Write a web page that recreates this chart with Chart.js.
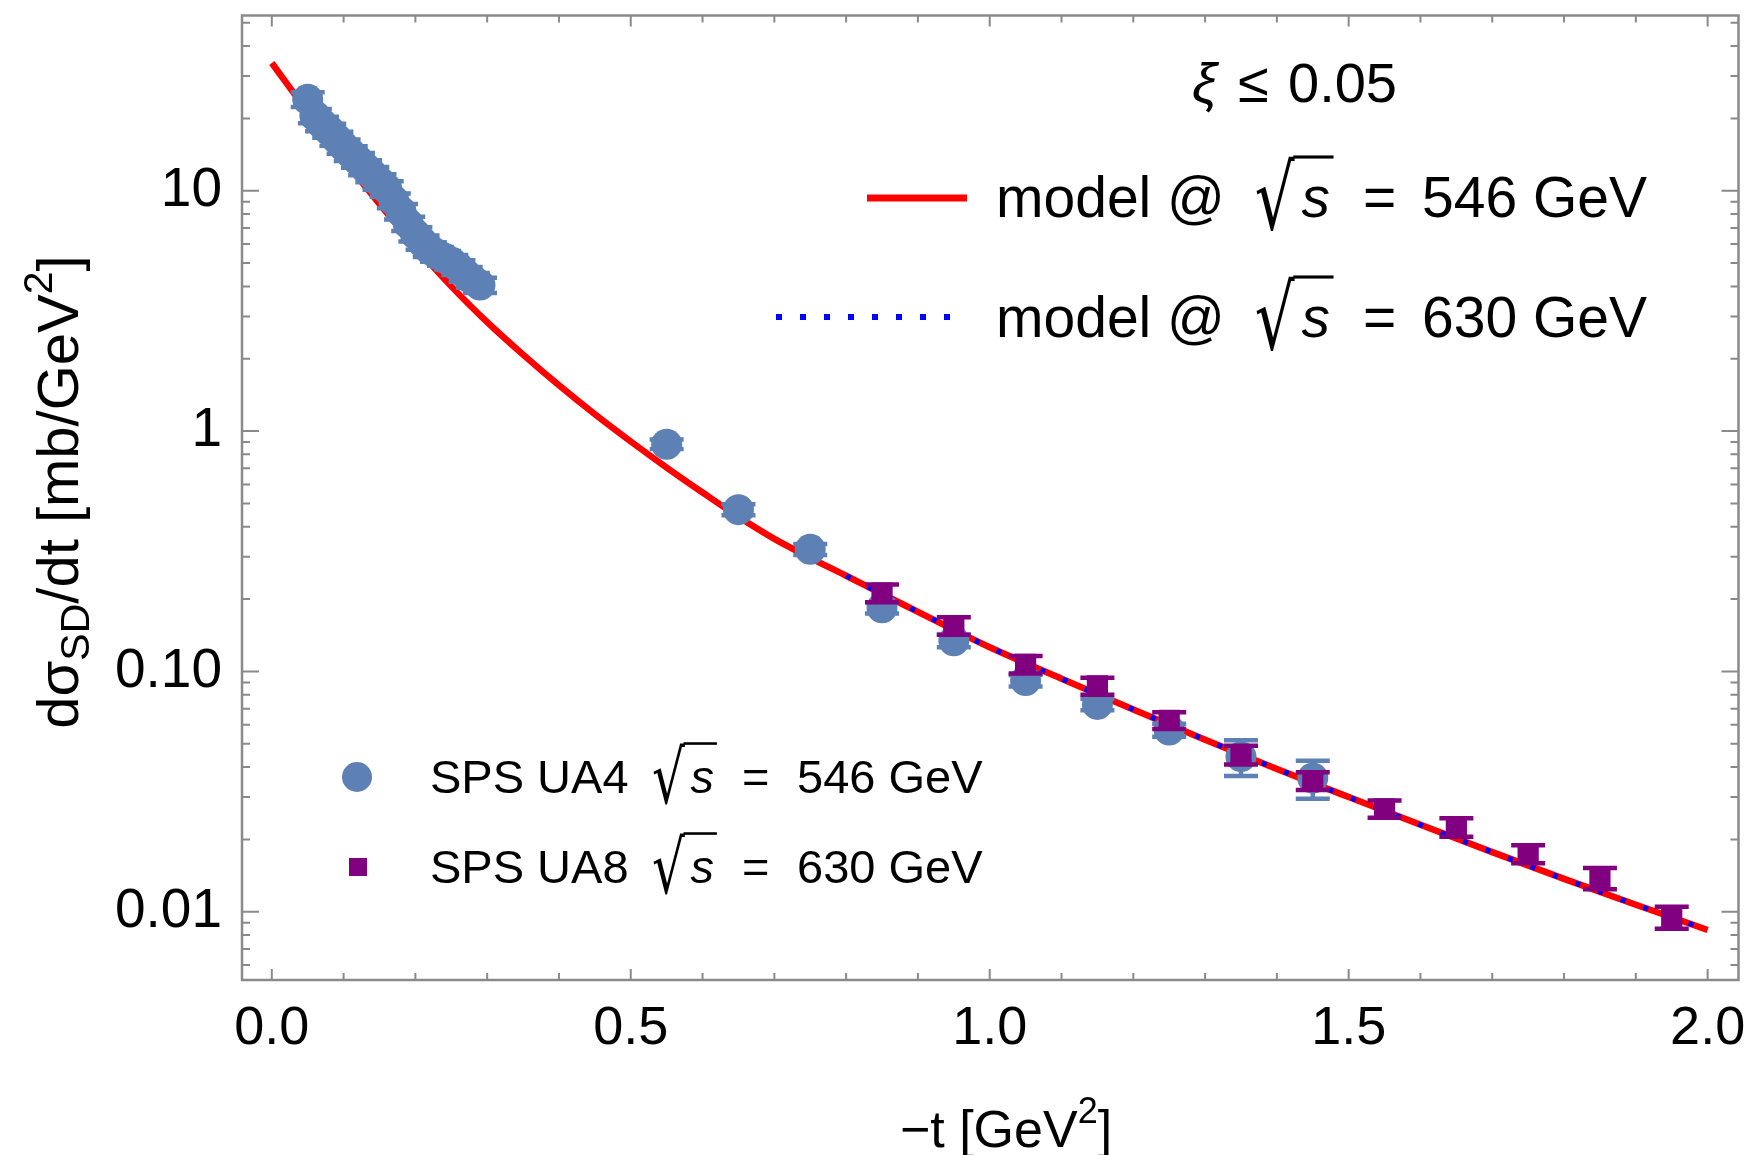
<!DOCTYPE html>
<html>
<head>
<meta charset="utf-8">
<title>Single diffraction dσ/dt</title>
<script src="https://cdn.jsdelivr.net/npm/chart.js@4.4.0/dist/chart.umd.min.js"></script>
<style>
  html, body { margin: 0; padding: 0; background: #fff; }
  canvas { display: block; }
</style>
</head>
<body>
<canvas id="sdChart" width="1754" height="1155"></canvas>
<script>
// model curves, -t in GeV^2, dsigma/dt in mb/GeV^2
var modelT = [0, 0.05, 0.1, 0.15, 0.2, 0.25, 0.3, 0.35, 0.4, 0.45, 0.5, 0.55, 0.6, 0.65, 0.7, 0.75, 0.8, 0.85, 0.9, 0.95, 1.0,
  1.1, 1.2, 1.3, 1.4, 1.5, 1.6, 1.7, 1.8, 1.9, 2.0];
var model546 = [34.0, 21.25, 13.55, 8.81, 5.85, 4.0, 2.84, 2.08, 1.55, 1.175, 0.905, 0.705, 0.555, 0.44, 0.356, 0.297, 0.25, 0.21, 0.177, 0.149, 0.126,
  0.0933, 0.0695, 0.052, 0.0393, 0.03, 0.023, 0.0177, 0.0137, 0.0107, 0.0084];
var model630T = [0.8, 0.85, 0.9, 0.95, 1.0, 1.1, 1.2, 1.3, 1.4, 1.5, 1.6, 1.7, 1.8, 1.9, 2.0];
var model630 = [0.25, 0.21, 0.177, 0.149, 0.126, 0.0933, 0.0695, 0.052, 0.0393, 0.03, 0.023, 0.0177, 0.0137, 0.0107, 0.0084];

// SPS UA4, sqrt(s) = 546 GeV
var ua4T = [0.05, 0.06, 0.07, 0.08, 0.09, 0.10, 0.11, 0.12, 0.13, 0.14, 0.15, 0.16, 0.17, 0.18, 0.19, 0.20,
  0.21, 0.22, 0.23, 0.24, 0.25, 0.26, 0.27, 0.28, 0.29,
  0.55, 0.65, 0.75, 0.85, 0.95, 1.05, 1.15, 1.25, 1.35, 1.45];
var ua4Val = [24.0, 20.5, 19.0, 17.8, 16.5, 15.3, 14.3, 13.4, 12.5, 11.7, 10.9, 10.2, 9.1, 8.2, 7.3, 6.6,
  6.1, 5.7, 5.45, 5.25, 5.05, 4.8, 4.5, 4.25, 4.05,
  0.882, 0.471, 0.322, 0.184, 0.134, 0.0916, 0.0729, 0.057, 0.0442, 0.036];
var ua4Err = [1.7, 1.4, 1.3, 1.2, 1.1, 1.05, 1.0, 0.95, 0.9, 0.85, 0.8, 0.75, 0.65, 0.6, 0.5, 0.45,
  0.42, 0.4, 0.38, 0.37, 0.35, 0.34, 0.32, 0.3, 0.3,
  0.04, 0.025, 0.017, 0.01, 0.008, 0.005, 0.004, 0.0035, 0.0075, 0.0065];

// SPS UA8, sqrt(s) = 630 GeV
var ua8T = [0.85, 0.95, 1.05, 1.15, 1.25, 1.35, 1.45, 1.55, 1.65, 1.75, 1.85, 1.95];
var ua8Val = [0.212, 0.155, 0.107, 0.087, 0.0626, 0.045, 0.0351, 0.0268, 0.0225, 0.0174, 0.0138, 0.0095];
var ua8Err = [0.018, 0.013, 0.009, 0.007, 0.005, 0.004, 0.003, 0.0022, 0.002, 0.0015, 0.0014, 0.001];

var xTickValues = [0, 0.5, 1, 1.5, 2];
var xTickLabels = ["0.0", "0.5", "1.0", "1.5", "2.0"];
var yTickValues = [0.01, 0.1, 1, 10];
var yTickLabels = ["0.01", "0.10", "1", "10"];

var FONT = '"Liberation Sans", Arial, sans-serif';
Chart.defaults.font.family = FONT;
Chart.defaults.color = "#000";

function pts(xs, ys) {
  return xs.map(function (t, i) { return { x: t, y: ys[i] }; });
}

// vertical error bars with caps, drawn just under each data set's markers
var errorBars = {
  id: "errorBars",
  beforeDatasetDraw: function (chart, args) {
    var ds = chart.data.datasets[args.index];
    if (!ds.errors) return;
    var ctx = chart.ctx, x = chart.scales.x, y = chart.scales.y;
    ctx.save();
    ctx.strokeStyle = ds.backgroundColor;
    ctx.lineWidth = 4.5;
    ctx.beginPath();
    ds.data.forEach(function (p, i) {
      var e = ds.errors[i];
      var px = x.getPixelForValue(p.x);
      var lo = y.getPixelForValue(p.y - e), hi = y.getPixelForValue(p.y + e);
      ctx.moveTo(px, lo); ctx.lineTo(px, hi);
      ctx.moveTo(px - 17, lo); ctx.lineTo(px + 17, lo);
      ctx.moveTo(px - 17, hi); ctx.lineTo(px + 17, hi);
    });
    ctx.stroke();
    ctx.restore();
  }
};

// frame with inward ticks on all four sides
var frameTicks = {
  id: "frameTicks",
  afterDatasetsDraw: function (chart) {
    var ctx = chart.ctx, a = chart.chartArea, x = chart.scales.x, y = chart.scales.y;
    ctx.save();
    ctx.strokeStyle = "#8a8a8a";
    ctx.lineWidth = 2;
    ctx.beginPath();
    for (var i = 0; i <= 20; i++) {
      var px = x.getPixelForValue(i / 10);
      var len = i % 5 === 0 ? 11 : 7;
      ctx.moveTo(px, a.bottom); ctx.lineTo(px, a.bottom - len);
      ctx.moveTo(px, a.top); ctx.lineTo(px, a.top + len);
    }
    for (var e = -3; e <= 1; e++) {
      for (var k = 1; k <= 9; k++) {
        var v = k * Math.pow(10, e);
        if (v < y.min || v > y.max) continue;
        var py = y.getPixelForValue(v);
        var l = k === 1 ? 17 : 8;
        ctx.moveTo(a.left, py); ctx.lineTo(a.left + l, py);
        ctx.moveTo(a.right, py); ctx.lineTo(a.right - l, py);
      }
    }
    ctx.stroke();
    ctx.lineWidth = 2.5;
    ctx.strokeRect(a.left, a.top, a.right - a.left, a.bottom - a.top);
    ctx.restore();
  }
};

function partsWidth(ctx, parts) {
  var w = 0;
  parts.forEach(function (p) { ctx.font = p.font; w += ctx.measureText(p.text).width; });
  return w;
}

function drawParts(ctx, parts, x, y) {
  parts.forEach(function (p) {
    ctx.font = p.font;
    ctx.fillText(p.text, x, y + (p.dy || 0));
    x += ctx.measureText(p.text).width;
  });
  return x;
}

// radical sign over an italic s
function drawRoot(ctx, x, base, size) {
  var top = base - 1.08 * size, bot = base + 0.25 * size;
  var w = 0.68 * size;
  ctx.font = '100px "DejaVu Sans"';
  var m = ctx.measureText("\u221A");
  var gh = m.actualBoundingBoxAscent + m.actualBoundingBoxDescent;
  var gw = m.actualBoundingBoxLeft + m.actualBoundingBoxRight;
  var k = (bot - top) / gh;
  ctx.save();
  ctx.font = (100 * k) + 'px "DejaVu Sans"';
  ctx.translate(x, 0);
  ctx.scale(w / (gw * k), 1);
  ctx.fillText("\u221A", m.actualBoundingBoxLeft * k, bot - m.actualBoundingBoxDescent * k);
  ctx.restore();
  var sx = x + w + 0.12 * size;
  ctx.font = "italic " + size + "px " + FONT;
  ctx.fillText("s", sx, base);
  var end = sx + ctx.measureText("s").width + 0.06 * size;
  ctx.fillRect(x + w - 1.5, top, end - (x + w - 1.5), Math.max(2.5, 0.055 * size));
  return end;
}

function keyRow(ctx, label, value, size, xs, base) {
  ctx.font = size + "px " + FONT;
  ctx.fillText(label, xs[0], base);
  drawRoot(ctx, xs[1], base, size);
  ctx.font = size + "px " + FONT;
  ctx.fillText("=", xs[2], base);
  ctx.fillText(value, xs[3], base);
}

// axis titles and the two keys
var annotations = {
  id: "annotations",
  afterDraw: function (chart) {
    var ctx = chart.ctx;
    ctx.save();
    ctx.fillStyle = "#000";
    ctx.textAlign = "left";
    ctx.textBaseline = "alphabetic";

    var xt = [
      { text: "\u2212t [GeV", font: "52px " + FONT },
      { text: "2", font: "36px " + FONT, dy: -24 },
      { text: "]", font: "52px " + FONT }
    ];
    drawParts(ctx, xt, 1006 - partsWidth(ctx, xt) / 2, 1147);

    var yt = [
      { text: "d\u03C3", font: "58px " + FONT },
      { text: "SD", font: "41px " + FONT, dy: 11 },
      { text: "/dt [mb/GeV", font: "58px " + FONT },
      { text: "2", font: "41px " + FONT, dy: -26 },
      { text: "]", font: "58px " + FONT }
    ];
    ctx.save();
    ctx.translate(78, 492);
    ctx.rotate(-Math.PI / 2);
    drawParts(ctx, yt, -partsWidth(ctx, yt) / 2, 0);
    ctx.restore();

    // upper right key
    ctx.font = "italic 56px " + FONT;
    ctx.fillText("\u03BE", 1192, 102);
    ctx.font = "56px " + FONT;
    ctx.fillText("\u2264", 1238, 102);
    ctx.fillText("0.05", 1288, 102);

    ctx.strokeStyle = "#FF0000";
    ctx.lineWidth = 7;
    ctx.beginPath(); ctx.moveTo(867, 198); ctx.lineTo(967, 198); ctx.stroke();
    keyRow(ctx, "model @", "546 GeV", 57, [996, 1256, 1363, 1422], 217);

    ctx.strokeStyle = "#0000FF";
    ctx.lineWidth = 6;
    ctx.setLineDash([6, 18]);
    ctx.beginPath(); ctx.moveTo(776, 317); ctx.lineTo(957, 317); ctx.stroke();
    ctx.setLineDash([]);
    keyRow(ctx, "model @", "630 GeV", 57, [996, 1256, 1363, 1422], 337);

    // lower left key
    ctx.fillStyle = "#5E81B5";
    ctx.beginPath(); ctx.arc(357, 777, 15, 0, Math.PI * 2); ctx.fill();
    ctx.fillStyle = "#800080";
    ctx.fillRect(349, 858, 18, 18);
    ctx.fillStyle = "#000";
    keyRow(ctx, "SPS UA4", "546 GeV", 47, [430, 653, 742, 797], 793);
    keyRow(ctx, "SPS UA8", "630 GeV", 47, [430, 653, 742, 797], 883);
    ctx.restore();
  }
};

new Chart(document.getElementById("sdChart"), {
  type: "scatter",
  data: {
    datasets: [
      {
        label: "SPS UA8",
        data: pts(ua8T, ua8Val),
        errors: ua8Err,
        backgroundColor: "#800080",
        pointStyle: "rect",
        pointRadius: 15,
        borderWidth: 0,
        pointBorderWidth: 0,
        order: 0
      },
      {
        label: "SPS UA4",
        data: pts(ua4T, ua4Val),
        errors: ua4Err,
        backgroundColor: "#5E81B5",
        pointStyle: "circle",
        pointRadius: 15.5,
        borderWidth: 0,
        pointBorderWidth: 0,
        order: 1
      },
      {
        label: "model 630 GeV",
        data: pts(model630T, model630),
        showLine: true,
        borderColor: "#0000FF",
        borderWidth: 5,
        borderDash: [5, 19],
        pointRadius: 0,
        cubicInterpolationMode: "monotone",
        order: 2
      },
      {
        label: "model 546 GeV",
        data: pts(modelT, model546),
        showLine: true,
        borderColor: "#FF0000",
        borderWidth: 6.5,
        pointRadius: 0,
        cubicInterpolationMode: "monotone",
        order: 3
      }
    ]
  },
  options: {
    responsive: false,
    animation: false,
    events: [],
    layout: { padding: { top: 7.5, right: 14, left: 0, bottom: 0 } },
    plugins: {
      legend: { display: false },
      tooltip: { enabled: false }
    },
    scales: {
      x: {
        type: "linear",
        min: -0.0415,
        max: 2.043,
        grid: { display: false },
        border: { display: false },
        afterBuildTicks: function (s) {
          s.ticks = xTickValues.map(function (v) { return { value: v }; });
        },
        ticks: {
          autoSkip: false,
          maxRotation: 0,
          padding: 9,
          font: { size: 54 },
          callback: function (v, i) { return xTickLabels[i]; }
        },
        afterFit: function (s) {
          s.height = 175;
          s.paddingLeft = 0;
          s.paddingRight = 0;
        }
      },
      y: {
        type: "logarithmic",
        min: 0.0052,
        max: 53.6,
        grid: { display: false },
        border: { display: false },
        afterBuildTicks: function (s) {
          s.ticks = yTickValues.map(function (v) { return { value: v }; });
        },
        ticks: {
          autoSkip: false,
          padding: 12,
          font: { size: 55 },
          callback: function (v, i) { return yTickLabels[i]; }
        },
        afterFit: function (s) {
          s.width = 242;
          s.paddingTop = 0;
          s.paddingBottom = 0;
        }
      }
    }
  },
  plugins: [errorBars, frameTicks, annotations]
});
</script>
</body>
</html>
